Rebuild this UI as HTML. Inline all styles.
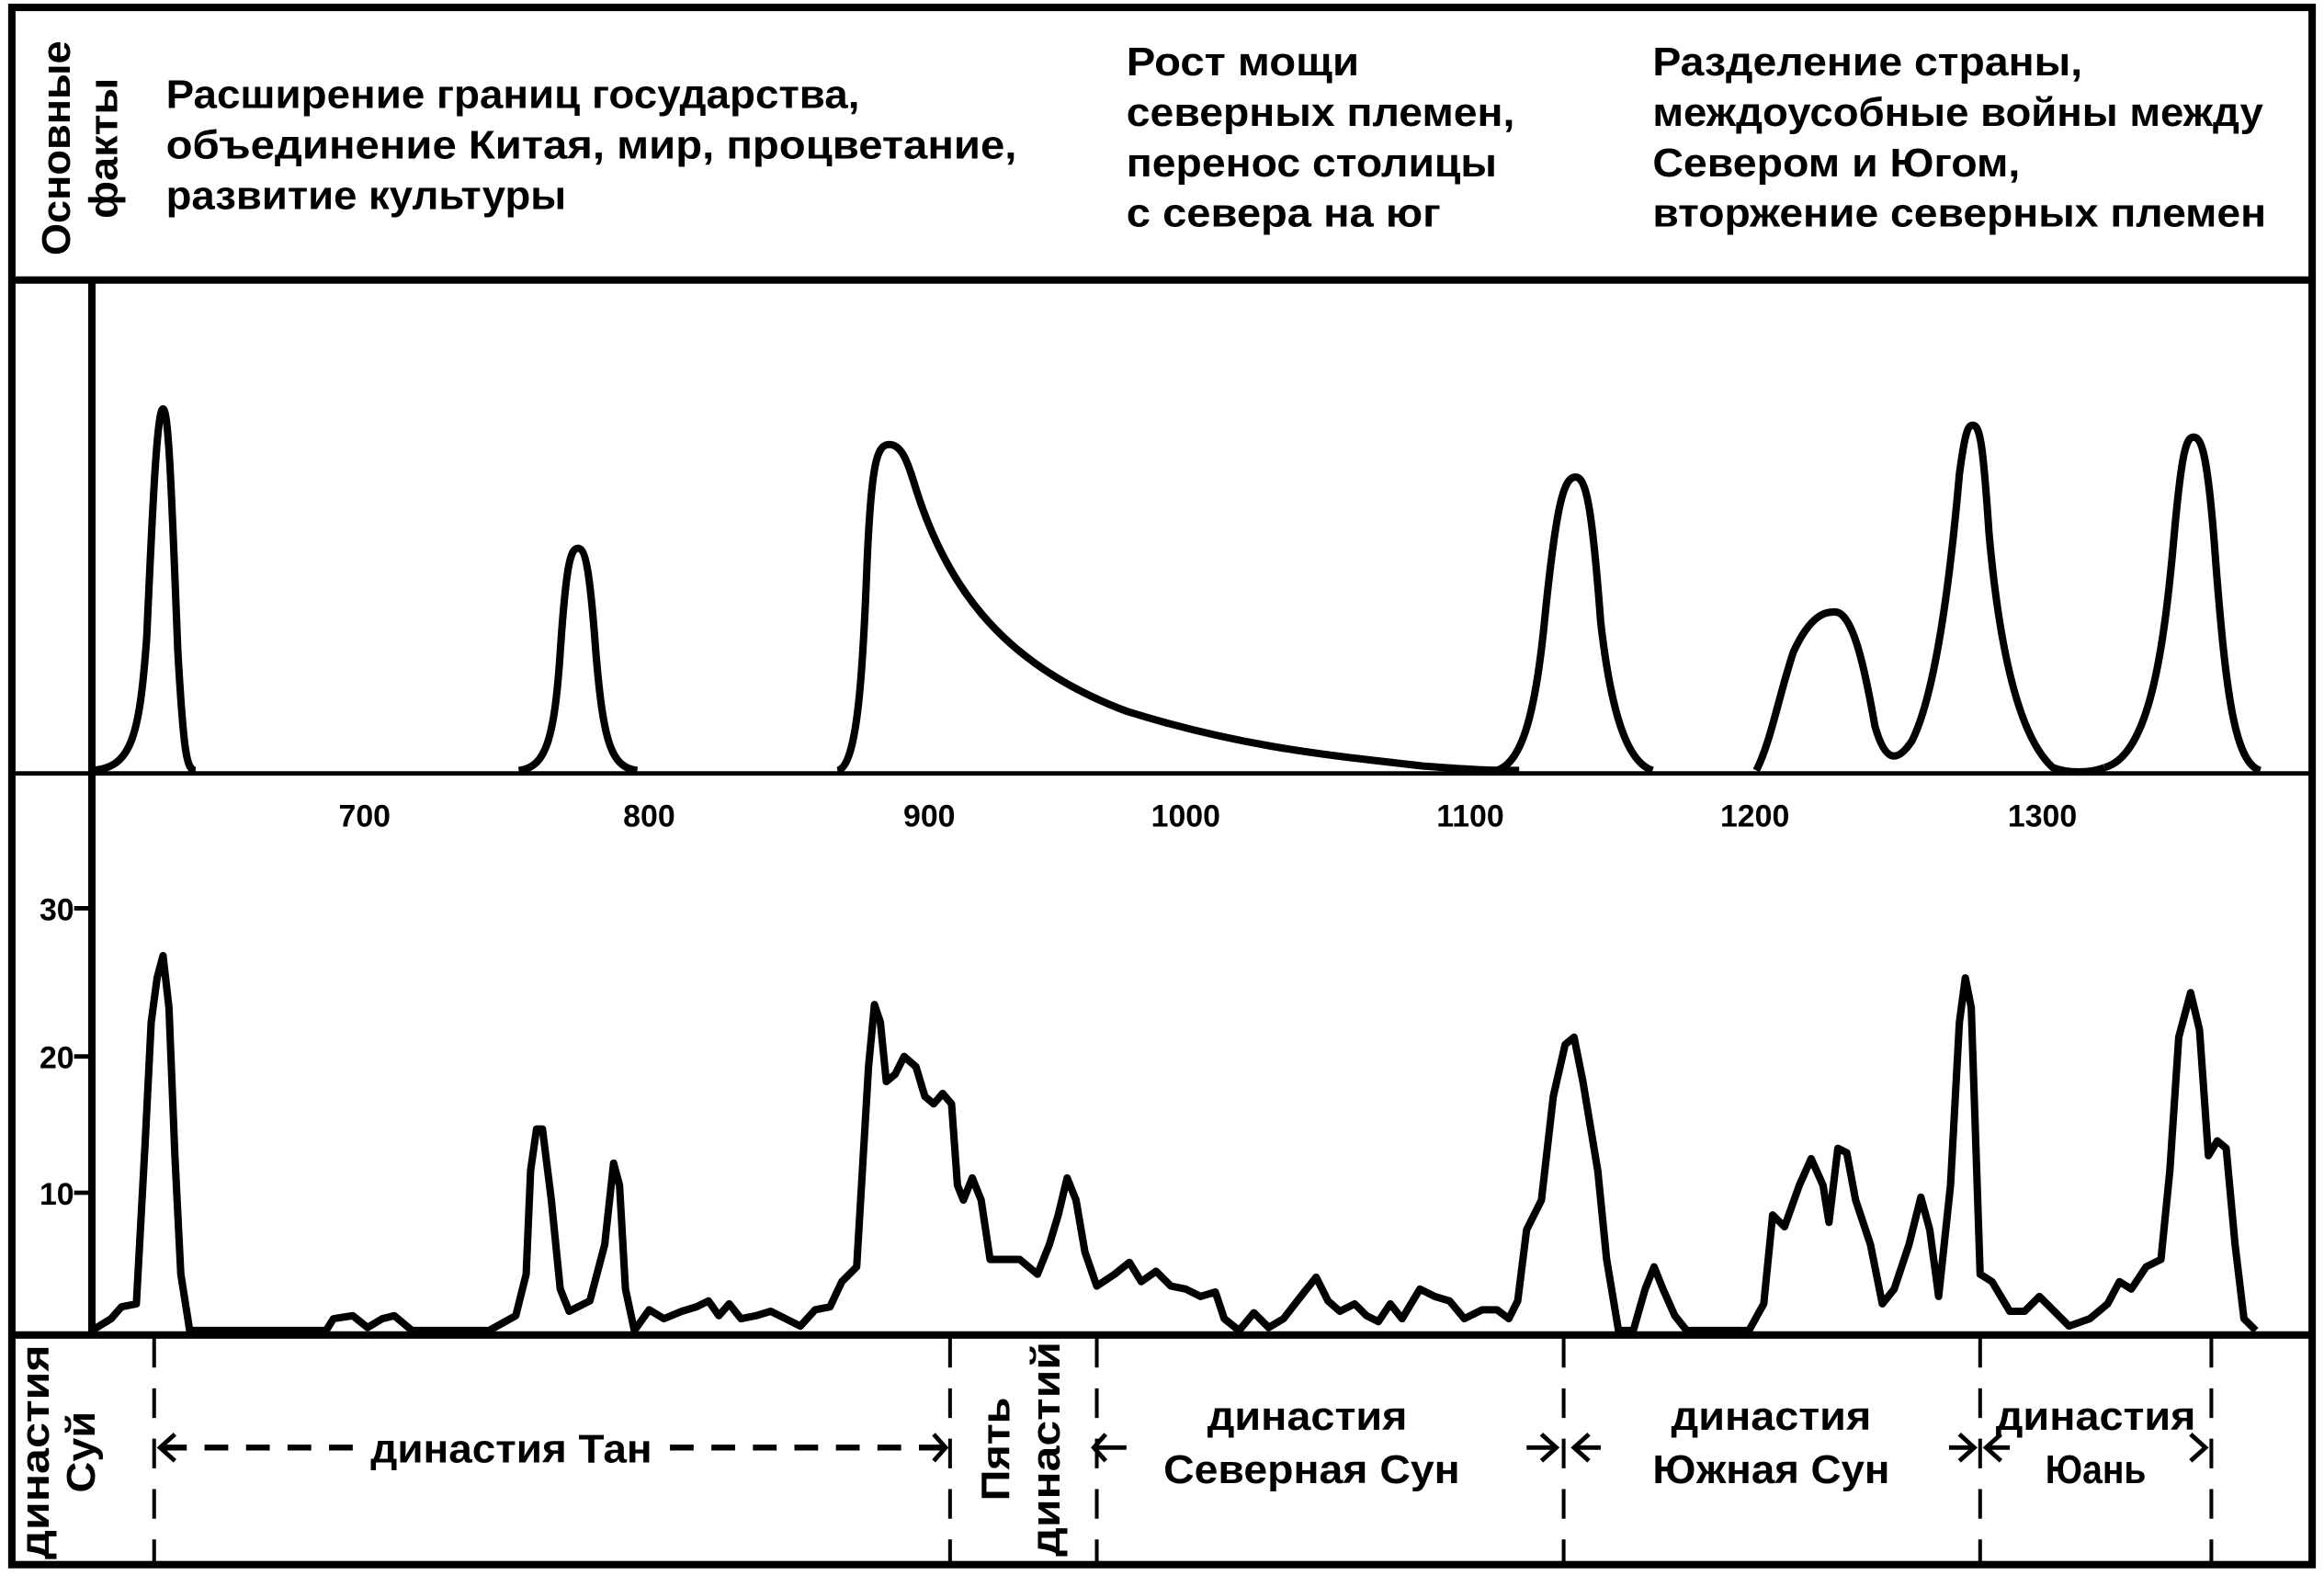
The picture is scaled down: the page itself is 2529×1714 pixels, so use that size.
<!DOCTYPE html>
<html><head><meta charset="utf-8"><style>
html,body{margin:0;padding:0;background:#fff;}
svg{display:block;}
text{font-family:"Liberation Sans","DejaVu Sans",sans-serif;fill:#000;}
</style></head><body>
<svg width="2529" height="1714" viewBox="0 0 1568 1063" preserveAspectRatio="none" xmlns="http://www.w3.org/2000/svg">
<rect x="0" y="0" width="1568" height="1063" fill="#fff"/>
<rect x="8" y="5" width="1552" height="1051" fill="none" stroke="#000" stroke-width="5"/>
<line x1="8" y1="189" x2="1560" y2="189" stroke="#000" stroke-width="5"/>
<line x1="62" y1="189" x2="62" y2="900" stroke="#000" stroke-width="5"/>
<line x1="8" y1="522" x2="1560" y2="522" stroke="#000" stroke-width="3"/>
<line x1="8" y1="901" x2="1560" y2="901" stroke="#000" stroke-width="5"/>

<g font-size="27" font-weight="bold">
<text x="112" y="73" textLength="468" lengthAdjust="spacingAndGlyphs">Расширение границ государства,</text>
<text x="112" y="107" textLength="574" lengthAdjust="spacingAndGlyphs">объединение Китая, мир, процветание,</text>
<text x="112" y="141" textLength="270" lengthAdjust="spacingAndGlyphs">развитие культуры</text>
<text x="760" y="51" textLength="157" lengthAdjust="spacingAndGlyphs">Рост мощи</text>
<text x="760" y="85" textLength="262" lengthAdjust="spacingAndGlyphs">северных племен,</text>
<text x="760" y="119" textLength="250" lengthAdjust="spacingAndGlyphs">перенос столицы</text>
<text x="760" y="153" textLength="212" lengthAdjust="spacingAndGlyphs">с севера на юг</text>
<text x="1115" y="51" textLength="290" lengthAdjust="spacingAndGlyphs">Разделение страны,</text>
<text x="1115" y="85" textLength="412" lengthAdjust="spacingAndGlyphs">междоусобные войны между</text>
<text x="1115" y="119" textLength="248" lengthAdjust="spacingAndGlyphs">Севером и Югом,</text>
<text x="1115" y="153" textLength="414" lengthAdjust="spacingAndGlyphs">вторжение северных племен</text>
<text transform="translate(47,100) rotate(-90)" text-anchor="middle" textLength="145" lengthAdjust="spacingAndGlyphs">Основные</text>
<text transform="translate(79,100) rotate(-90)" text-anchor="middle" textLength="95" lengthAdjust="spacingAndGlyphs">факты</text>
</g>

<g fill="none" stroke="#000" stroke-width="5" stroke-linejoin="round">
<path d="M62,520 C88,518 94,500 99,430 C103,340 106,276 110,276 C114,276 116,340 120,440 C124,510 126,520 132,520"/>
<path d="M350,520 C368,518 374,500 378,440 C382,380 385,370 390,370 C395,370 398,385 402,440 C407,500 412,518 430,520"/>
<path d="M565,520 C578,518 582,460 585,380 C588,310 592,300 600,300 C608,300 612,310 618,330 C640,400 680,450 760,480 C840,505 900,510 960,517 C1000,520 1010,520 1025,520"/>
<path d="M1010,520 C1025,515 1035,490 1042,420 C1050,340 1055,322 1063,322 C1070,322 1074,340 1080,420 C1088,490 1100,515 1115,520"/>
<path d="M1185,520 C1195,500 1200,470 1210,440 C1222,414 1232,413 1238,413 C1250,413 1258,450 1265,490 C1272,515 1280,515 1290,500 C1305,470 1315,400 1322,320 C1326,290 1328,287 1331,287 C1336,287 1338,300 1342,360 C1350,450 1365,500 1385,518 C1395,522 1410,522 1420,518"/>
<path d="M1420,518 C1450,510 1460,440 1467,360 C1472,305 1475,295 1480,295 C1486,295 1490,310 1495,380 C1502,470 1508,515 1525,520"/>
</g>

<g font-size="21" font-weight="bold" text-anchor="middle">
<text x="246" y="558">700</text><text x="438" y="558">800</text><text x="627" y="558">900</text>
<text x="800" y="558">1000</text><text x="992" y="558">1100</text><text x="1184" y="558">1200</text><text x="1378" y="558">1300</text>
</g>
<g font-size="21" font-weight="bold" text-anchor="end">
<text x="50" y="621">30</text><text x="50" y="721">20</text><text x="50" y="813">10</text>
</g>
<g stroke="#000" stroke-width="3">
<line x1="50" y1="613" x2="62" y2="613"/><line x1="50" y1="713" x2="62" y2="713"/><line x1="50" y1="805" x2="62" y2="805"/>
</g>

<polyline fill="none" stroke="#000" stroke-width="5" stroke-linejoin="round" points="62,898 75,890 82,882 92,880 98,770 102,690 106,660 110,645 114,680 118,780 122,860 128,898 220,898 225,890 238,888 248,896 258,890 266,888 278,898 330,898 348,888 355,860 358,790 362,762 366,762 372,810 378,870 384,885 398,878 408,840 414,785 418,800 422,870 428,898 438,884 448,890 460,885 470,882 478,878 485,888 492,880 500,890 510,888 520,885 530,890 540,895 550,884 560,882 568,865 578,855 586,720 590,678 594,690 598,730 604,725 610,713 618,720 624,740 630,745 636,738 642,745 646,800 650,810 656,795 662,810 668,850 676,850 688,850 700,860 708,840 714,820 720,795 726,810 732,845 740,868 752,860 762,852 770,865 780,858 790,868 800,870 810,875 820,872 826,890 836,898 846,886 856,896 866,890 880,872 888,862 896,878 904,885 914,880 922,888 930,892 938,880 946,890 958,870 968,875 978,878 988,890 1000,884 1010,884 1018,890 1024,878 1030,830 1040,810 1048,740 1056,705 1062,700 1068,730 1078,790 1084,850 1092,898 1102,898 1110,870 1116,855 1122,870 1130,888 1138,898 1180,898 1190,880 1196,820 1204,828 1214,800 1222,782 1230,800 1234,825 1240,775 1246,778 1252,810 1262,840 1270,880 1278,870 1288,840 1296,808 1302,830 1308,875 1316,800 1322,690 1326,660 1330,680 1336,860 1344,865 1350,875 1356,885 1366,885 1376,875 1386,885 1396,895 1410,890 1422,880 1430,865 1438,870 1448,855 1458,850 1464,790 1470,700 1478,670 1484,695 1490,780 1496,770 1502,775 1508,840 1514,890 1522,898"/>

<g stroke="#000" stroke-width="2.5" stroke-dasharray="20,14">
<line x1="104" y1="903" x2="104" y2="1055"/>
<line x1="641" y1="903" x2="641" y2="1055"/>
<line x1="740" y1="903" x2="740" y2="1055"/>
<line x1="1055" y1="903" x2="1055" y2="1055"/>
<line x1="1336" y1="903" x2="1336" y2="1055"/>
<line x1="1492" y1="903" x2="1492" y2="1055"/>
</g>
<g stroke="#000" stroke-width="4" stroke-dasharray="16,12">
<line x1="110" y1="977" x2="240" y2="977"/>
<line x1="452" y1="977" x2="636" y2="977"/>
</g>
<g stroke="#000" stroke-width="3" fill="none">
<path d="M118,968 L108,977 L118,986 M108,977 L124,977"/>
<path d="M630,968 L638,977 L630,986"/>
<path d="M746,968 L738,977 L746,986 M738,977 L760,977"/>
<path d="M1040,968 L1050,977 L1040,986 M1030,977 L1050,977"/>
<path d="M1072,968 L1062,977 L1072,986 M1062,977 L1080,977"/>
<path d="M1322,968 L1332,977 L1322,986 M1315,977 L1332,977"/>
<path d="M1350,968 L1340,977 L1350,986 M1340,977 L1356,977"/>
<path d="M1478,968 L1488,977 L1478,986"/>
</g>
<g font-size="27" font-weight="bold" text-anchor="middle">
<text x="345" y="987" textLength="190" lengthAdjust="spacingAndGlyphs">династия Тан</text>
<text x="882" y="965" textLength="135" lengthAdjust="spacingAndGlyphs">династия</text>
<text x="885" y="1001" textLength="200" lengthAdjust="spacingAndGlyphs">Северная Сун</text>
<text x="1195" y="965" textLength="135" lengthAdjust="spacingAndGlyphs">династия</text>
<text x="1195" y="1001" textLength="160" lengthAdjust="spacingAndGlyphs">Южная Сун</text>
<text x="1414" y="965" textLength="135" lengthAdjust="spacingAndGlyphs">династия</text>
<text x="1414" y="1001" textLength="68" lengthAdjust="spacingAndGlyphs">Юань</text>
<text transform="translate(33,980) rotate(-90)" textLength="145" lengthAdjust="spacingAndGlyphs">династия</text>
<text transform="translate(64,980) rotate(-90)" textLength="55" lengthAdjust="spacingAndGlyphs">Суй</text>
<text transform="translate(681,978) rotate(-90)" textLength="70" lengthAdjust="spacingAndGlyphs">Пять</text>
<text transform="translate(715,978) rotate(-90)" textLength="145" lengthAdjust="spacingAndGlyphs">династий</text>
</g>
</svg>
</body></html>
